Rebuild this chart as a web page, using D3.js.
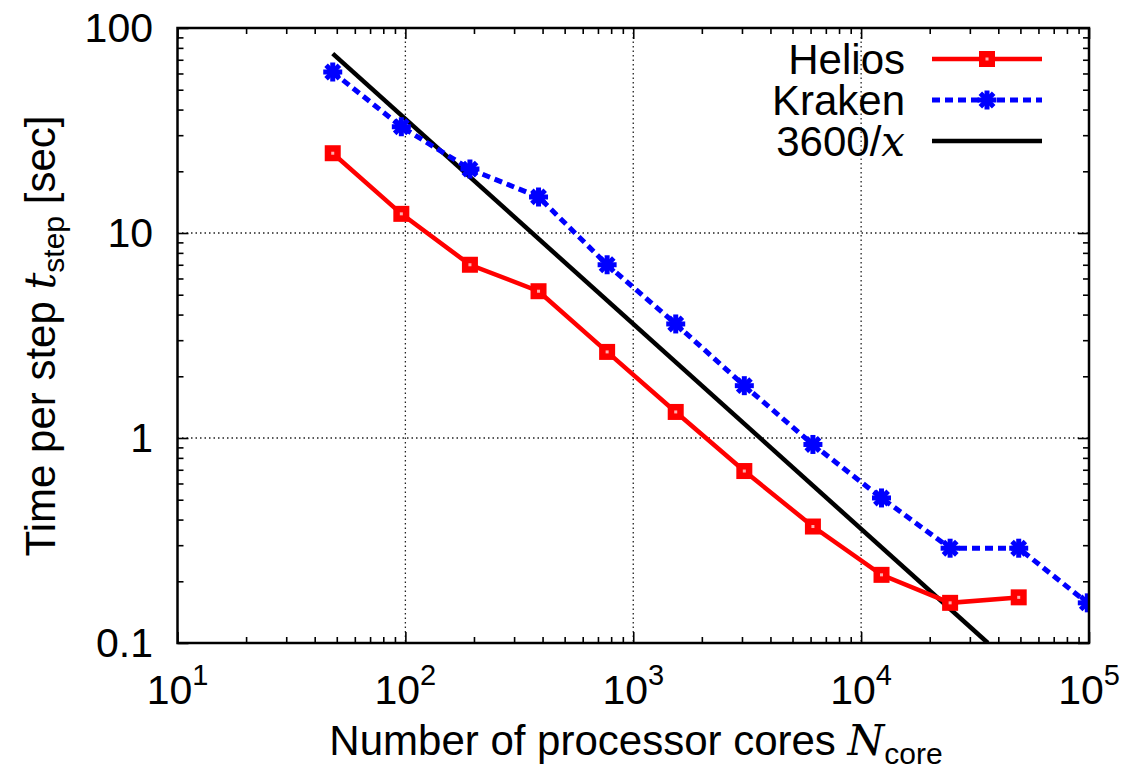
<!DOCTYPE html>
<html>
<head>
<meta charset="utf-8">
<script src="https://cdn.jsdelivr.net/npm/d3@7"></script>
<style>
  html, body { margin: 0; padding: 0; background: #fff; }
  svg text { font-family: "Liberation Sans", Arial, Helvetica, sans-serif; fill: #000; }
  .math { font-family: "DejaVu Serif", "Liberation Serif", serif; font-style: italic; }
</style>
</head>
<body>
<svg id="chart" width="1127" height="772"></svg>
<script>
// Number of processor cores used in each run
const cores = [48, 96, 192, 384, 768, 1536, 3072, 6144, 12288, 24576, 49152, 98304];
// Wall-clock time per step [sec]
const helios = [24.5, 12.4, 7.0, 5.2, 2.63, 1.34, 0.69, 0.37, 0.215, 0.157, 0.167];
const kraken = [61, 33, 20.5, 15.0, 7.0, 3.6, 1.8, 0.93, 0.51, 0.29, 0.29, 0.157];
// Ideal scaling reference 3600/x
const idealConst = 3600;
const idealRange = [48, 36000];
// Axis ticks
const xMajor = [1e1, 1e2, 1e3, 1e4, 1e5];
const xExponents = ["1", "2", "3", "4", "5"];
const yMajor = [0.1, 1, 10, 100];
const yLabels = ["0.1", "1", "10", "100"];
const legendNames = ["Helios", "Kraken"];

const svg = d3.select("#chart");
const pL = 177.5, pR = 1089, pT = 28, pB = 643;

const x = d3.scaleLog().domain([10, 1e5]).range([pL, pR]);
const y = d3.scaleLog().domain([0.1, 100]).range([pB, pT]);

// minor ticks for each decade
const minorX = [];
for (let e = 1; e < 5; e++) for (let k = 2; k <= 9; k++) minorX.push(k * Math.pow(10, e));
const minorY = [];
for (let e = -1; e < 2; e++) for (let k = 2; k <= 9; k++) minorY.push(k * Math.pow(10, e));

svg.append("defs").append("clipPath").attr("id", "plotclip")
  .append("rect").attr("x", pL).attr("y", pT).attr("width", pR - pL).attr("height", pB - pT);

// grid lines at major decades
const grid = svg.append("g").attr("stroke", "#222").attr("stroke-width", 1.3)
  .attr("stroke-dasharray", "1.5,3");
xMajor.slice(1, -1).forEach(v => {
  grid.append("line").attr("x1", x(v)).attr("x2", x(v)).attr("y1", pT).attr("y2", pB);
});
yMajor.slice(1, -1).forEach(v => {
  grid.append("line").attr("y1", y(v)).attr("y2", y(v)).attr("x1", pL).attr("x2", pR);
});

// axes with inward ticks on all four sides
function styleAxis(g) {
  g.select(".domain").remove();
  g.selectAll(".tick line").attr("stroke", "#000").attr("stroke-width", 1.6);
  g.selectAll(".tick text").remove();
}
const majorLen = 11, minorLen = 6;
svg.append("g").attr("transform", `translate(0,${pB})`)
  .call(d3.axisBottom(x).tickValues(xMajor).tickSize(-majorLen)).call(styleAxis);
svg.append("g").attr("transform", `translate(0,${pB})`)
  .call(d3.axisBottom(x).tickValues(minorX).tickSize(-minorLen)).call(styleAxis);
svg.append("g").attr("transform", `translate(0,${pT})`)
  .call(d3.axisTop(x).tickValues(xMajor).tickSize(-majorLen)).call(styleAxis);
svg.append("g").attr("transform", `translate(0,${pT})`)
  .call(d3.axisTop(x).tickValues(minorX).tickSize(-minorLen)).call(styleAxis);
svg.append("g").attr("transform", `translate(${pL},0)`)
  .call(d3.axisLeft(y).tickValues(yMajor).tickSize(-majorLen)).call(styleAxis);
svg.append("g").attr("transform", `translate(${pL},0)`)
  .call(d3.axisLeft(y).tickValues(minorY).tickSize(-minorLen)).call(styleAxis);
svg.append("g").attr("transform", `translate(${pR},0)`)
  .call(d3.axisRight(y).tickValues(yMajor).tickSize(-majorLen)).call(styleAxis);
svg.append("g").attr("transform", `translate(${pR},0)`)
  .call(d3.axisRight(y).tickValues(minorY).tickSize(-minorLen)).call(styleAxis);

// tick labels
yMajor.forEach((v, i) => {
  svg.append("text").attr("x", 153).attr("y", y(v) + 14)
    .attr("text-anchor", "end").attr("font-size", 41).text(yLabels[i]);
});
xMajor.forEach((v, i) => {
  const t = svg.append("text").attr("x", x(v)).attr("y", 704)
    .attr("text-anchor", "middle").attr("font-size", 41);
  t.append("tspan").text("10");
  t.append("tspan").attr("font-size", 29).attr("dy", -19).text(xExponents[i]);
});

// axis titles
const xt = svg.append("text").attr("x", 636).attr("y", 755)
  .attr("text-anchor", "middle").attr("font-size", 42);
xt.append("tspan").text("Number of processor cores ");
xt.append("tspan").attr("class", "math").text("N");
xt.append("tspan").attr("font-size", 30).attr("dy", 9).text("core");

const yt = svg.append("text").attr("transform", "translate(55,336) rotate(-90)")
  .attr("text-anchor", "middle").attr("font-size", 42);
yt.append("tspan").text("Time per step ");
yt.append("tspan").attr("class", "math").text("t");
yt.append("tspan").attr("font-size", 30).attr("dy", 9).text("step");
yt.append("tspan").attr("dy", -9).text(" [sec]");

// data layer
const plot = svg.append("g").attr("clip-path", "url(#plotclip)");

const line = d3.line().x(d => x(d[0])).y(d => y(d[1]));

// ideal scaling line
plot.append("path")
  .datum(idealRange.map(c => [c, idealConst / c]))
  .attr("d", line).attr("fill", "none").attr("stroke", "#000").attr("stroke-width", 4.5);

const kData = cores.slice(0, kraken.length).map((c, i) => [c, kraken[i]]);
const hData = cores.slice(0, helios.length).map((c, i) => [c, helios[i]]);

plot.append("path").datum(kData).attr("d", line)
  .attr("fill", "none").attr("stroke", "#0000ff").attr("stroke-width", 5)
  .attr("stroke-dasharray", "8,5");

plot.append("path").datum(hData).attr("d", line)
  .attr("fill", "none").attr("stroke", "#ff0000").attr("stroke-width", 4.5);

function starMarker(g, cx, cy) {
  const s = 7;
  const m = g.append("g").attr("stroke", "#0000ff").attr("stroke-width", 5).attr("stroke-linecap", "square");
  m.append("line").attr("x1", cx - s).attr("x2", cx + s).attr("y1", cy).attr("y2", cy);
  m.append("line").attr("x1", cx).attr("x2", cx).attr("y1", cy - s).attr("y2", cy + s);
  m.append("line").attr("x1", cx - s * 0.7).attr("x2", cx + s * 0.7).attr("y1", cy - s * 0.7).attr("y2", cy + s * 0.7);
  m.append("line").attr("x1", cx - s * 0.7).attr("x2", cx + s * 0.7).attr("y1", cy + s * 0.7).attr("y2", cy - s * 0.7);
}
function squareMarker(g, cx, cy) {
  g.append("rect").attr("x", cx - 8).attr("y", cy - 8).attr("width", 16).attr("height", 16)
    .attr("fill", "#ff0000");
  g.append("rect").attr("x", cx - 1.5).attr("y", cy - 1.5).attr("width", 3).attr("height", 3)
    .attr("fill", "#ffb0b0");
}

kData.forEach(d => starMarker(plot, x(d[0]), y(d[1])));
hData.forEach(d => squareMarker(plot, x(d[0]), y(d[1])));

// frame
svg.append("rect").attr("x", pL).attr("y", pT).attr("width", pR - pL).attr("height", pB - pT)
  .attr("fill", "none").attr("stroke", "#000").attr("stroke-width", 2.5);

// legend
const lgX1 = 932, lgX2 = 1042, lgText = 905;
const rows = [59, 100, 141];
svg.append("text").attr("x", lgText).attr("y", rows[0] + 15).attr("text-anchor", "end")
  .attr("font-size", 42).text(legendNames[0]);
svg.append("line").attr("x1", lgX1).attr("x2", lgX2).attr("y1", rows[0]).attr("y2", rows[0])
  .attr("stroke", "#ff0000").attr("stroke-width", 4.5);
squareMarker(svg, (lgX1 + lgX2) / 2, rows[0]);

svg.append("text").attr("x", lgText).attr("y", rows[1] + 15).attr("text-anchor", "end")
  .attr("font-size", 42).text(legendNames[1]);
svg.append("line").attr("x1", lgX1).attr("x2", lgX2).attr("y1", rows[1]).attr("y2", rows[1])
  .attr("stroke", "#0000ff").attr("stroke-width", 5).attr("stroke-dasharray", "8,5");
starMarker(svg, (lgX1 + lgX2) / 2, rows[1]);

const l3 = svg.append("text").attr("x", lgText).attr("y", rows[2] + 15).attr("text-anchor", "end")
  .attr("font-size", 42);
l3.append("tspan").text("3600/");
l3.append("tspan").attr("class", "math").text("x");
svg.append("line").attr("x1", lgX1).attr("x2", lgX2).attr("y1", rows[2]).attr("y2", rows[2])
  .attr("stroke", "#000").attr("stroke-width", 4.5);
</script>
</body>
</html>
